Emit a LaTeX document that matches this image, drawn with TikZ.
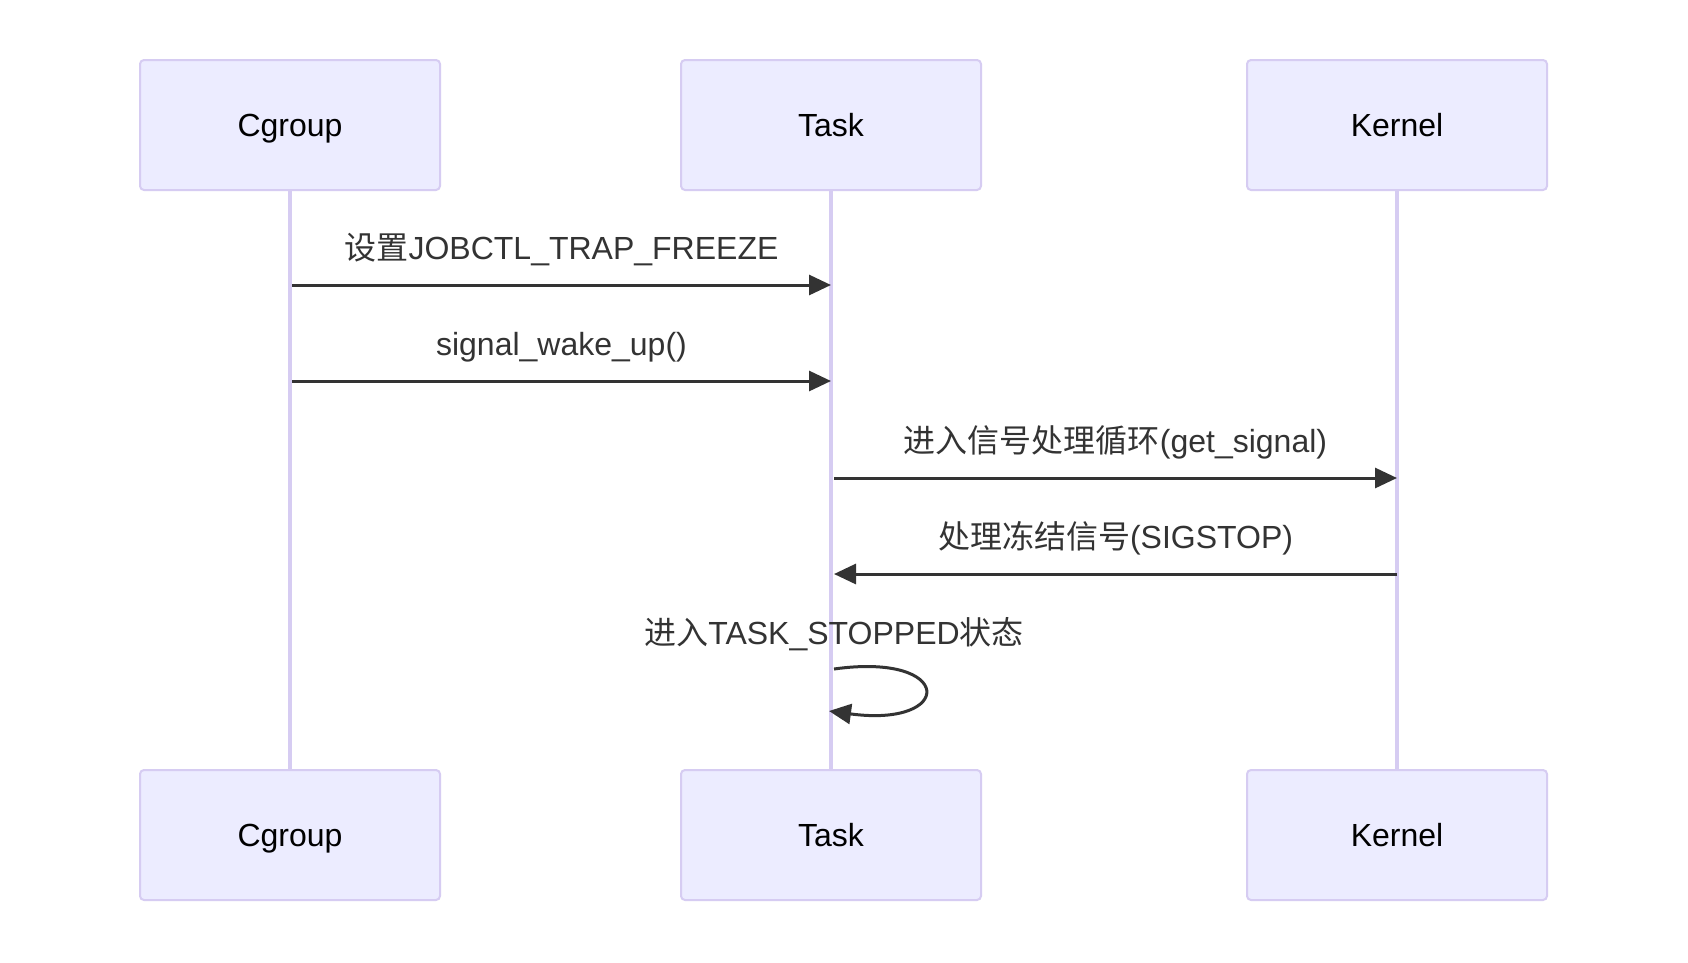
\documentclass[tikz,border=0pt]{standalone}
\usepackage{fontspec}
\setmainfont{Liberation Sans}
\newfontfamily\cjk{Noto Sans CJK SC}
\usetikzlibrary{arrows.meta}

\definecolor{actorfill}{HTML}{ECECFF}
\definecolor{actorline}{HTML}{D6CCF2}
\definecolor{msgcol}{HTML}{333333}

\tikzset{
    actor/.style = {draw = actorline, line width = 2pt, fill = actorfill, rounded corners = 4pt,
        minimum width = 300pt, minimum height = 130pt, text height = 26pt, text depth = 4pt,
        font = \fontsize{32}{38}\selectfont, text = black},
    lifeline/.style = {draw = actorline, line width = 3.5pt},
    msg/.style = {draw = msgcol, line width = 3pt, -{Triangle[length = 22pt, width = 20pt]}},
    msglabel/.style = {font = \fontsize{32}{38}\selectfont, text = msgcol}
}

\begin{document}
\begin{tikzpicture}[x = 1pt, y = -1pt]
    \useasboundingbox[fill = white] (0, 0) rectangle (1688, 962);

    % actors, top row
    \node[actor] (cgtop) at (290, 125) {Cgroup};
    \node[actor] (tasktop) at (831, 125) {Task};
    \node[actor] (kerntop) at (1397, 125) {Kernel};

    % actors, bottom row
    \node[actor] (cgbot) at (290, 835) {Cgroup};
    \node[actor] (taskbot) at (831, 835) {Task};
    \node[actor] (kernbot) at (1397, 835) {Kernel};

    % lifelines
    \draw[lifeline] (cgtop.south) -- (cgbot.north);
    \draw[lifeline] (tasktop.south) -- (taskbot.north);
    \draw[lifeline] (kerntop.south) -- (kernbot.north);

    % points on lifelines
    \coordinate (cg1) at (292, 285);
    \coordinate (task1) at (831, 285);
    \coordinate (cg2) at (292, 381);
    \coordinate (task2) at (831, 381);
    \coordinate (task3) at (834, 478);
    \coordinate (kern3) at (1397, 478);
    \coordinate (kern4) at (1397, 574);
    \coordinate (task4) at (834, 574);
    \coordinate (task5a) at (834, 669);
    \coordinate (task5b) at (829, 711);

    % messages
    \draw[msg] (cg1) -- (task1)
        node[msglabel, midway, above = 14pt] {{\cjk 设置}JOBCTL\_TRAP\_FREEZE};
    \draw[msg] (cg2) -- (task2)
        node[msglabel, midway, above = 14pt] {signal\_wake\_up()};
    \draw[msg] (task3) -- (kern3)
        node[msglabel, midway, above = 14pt] {{\cjk 进入信号处理循环}(get\_signal)};
    \draw[msg] (kern4) -- (task4)
        node[msglabel, midway, above = 14pt] {{\cjk 处理冻结信号}(SIGSTOP)};
    \node[msglabel] (selflabel) at (834, 634) {{\cjk 进入}TASK\_STOPPED{\cjk 状态}};
    \draw[msg] (task5a) .. controls (955, 652) and (955, 728) .. (task5b);
\end{tikzpicture}
\end{document}
